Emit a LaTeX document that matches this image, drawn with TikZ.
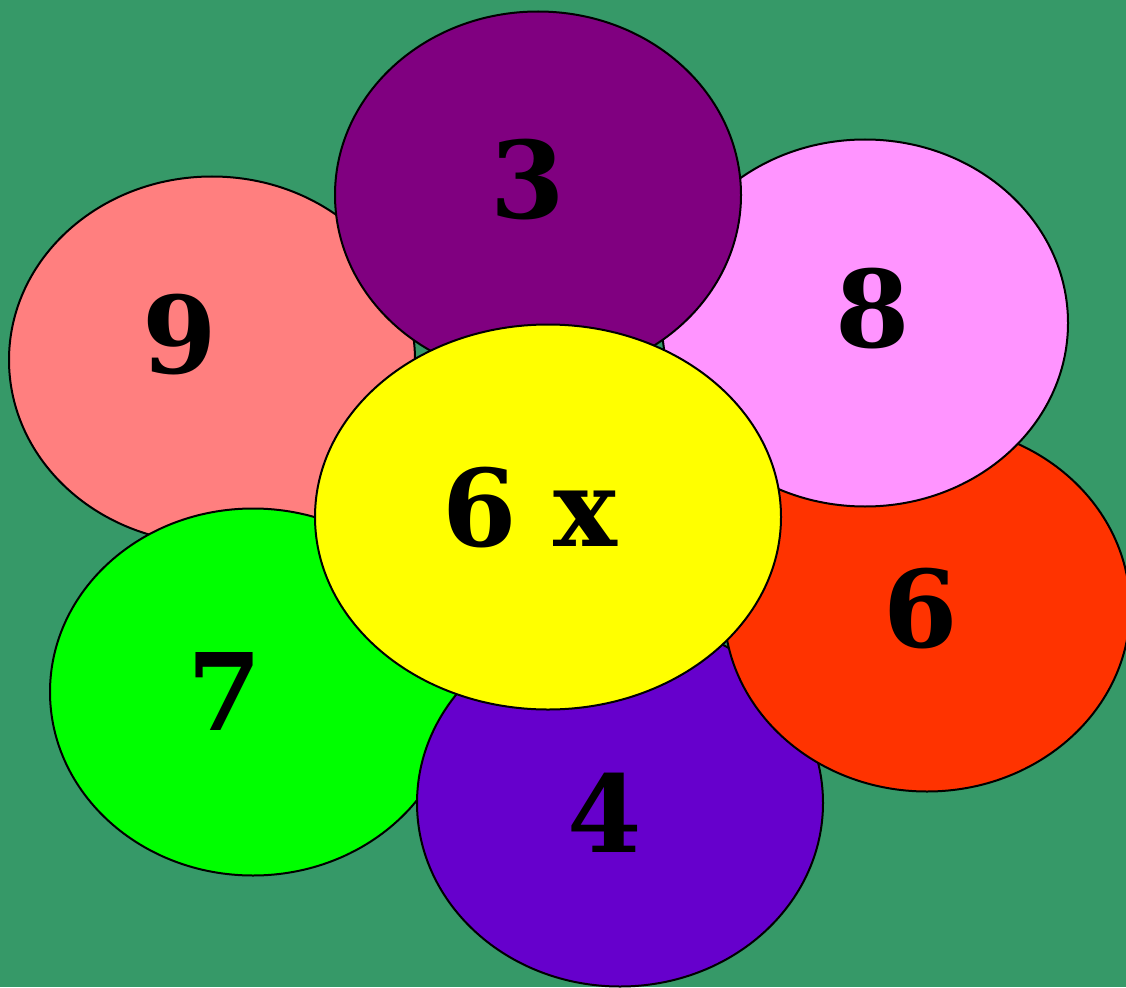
\documentclass[tikz,border=0pt]{standalone}
\usepackage{fontspec}
\newfontfamily\numfont{DejaVu Serif}
\usetikzlibrary{shapes.geometric}
\definecolor{bg}{RGB}{54,153,104}
\definecolor{pnine}{RGB}{255,127,127}
\definecolor{pthree}{RGB}{128,0,128}
\definecolor{peight}{RGB}{255,148,255}
\definecolor{psix}{RGB}{255,51,0}
\definecolor{pfour}{RGB}{102,0,204}
\definecolor{pseven}{RGB}{0,255,0}
\definecolor{pcenter}{RGB}{255,255,0}
\tikzset{
  petal/.style={ellipse, draw=black, line width=2pt, inner sep=0pt,
    minimum width=406pt, minimum height=367pt},
  num/.style={anchor=base, inner sep=0pt, font=\numfont\bfseries\fontsize{107}{107}\selectfont}
}
\begin{document}
\begin{tikzpicture}[x=1pt,y=-1pt]
\fill[bg] (0,0) rectangle (1126,987);
\useasboundingbox (0,0) rectangle (1126,987);
\node[petal, fill=pnine] (e9) at (212,360) {};
\node[petal, fill=pseven] (e7) at (253,692) {};
\node[petal, fill=pfour] (e4) at (620,803) {};
\node[petal, fill=psix] (e6) at (927,608) {};
\node[petal, fill=peight] (e8) at (865,323) {};
\node[petal, fill=pthree] (e3) at (538,195) {};
\node[petal, fill=pcenter, minimum width=466pt, minimum height=385pt] (ec) at (548,517) {};
\node[num] (t9) at (180,373) {9};
\node[num] (t3) at (528,218) {3};
\node[num] (t8) at (873,347) {8};
\node[num] (t6) at (921,647) {6};
\node[num] (t7) at (225,730) {7};
\node[num] (t4) at (605,852) {4};
\node[num] (tc) at (530,546) {6 x};
\end{tikzpicture}
\end{document}
